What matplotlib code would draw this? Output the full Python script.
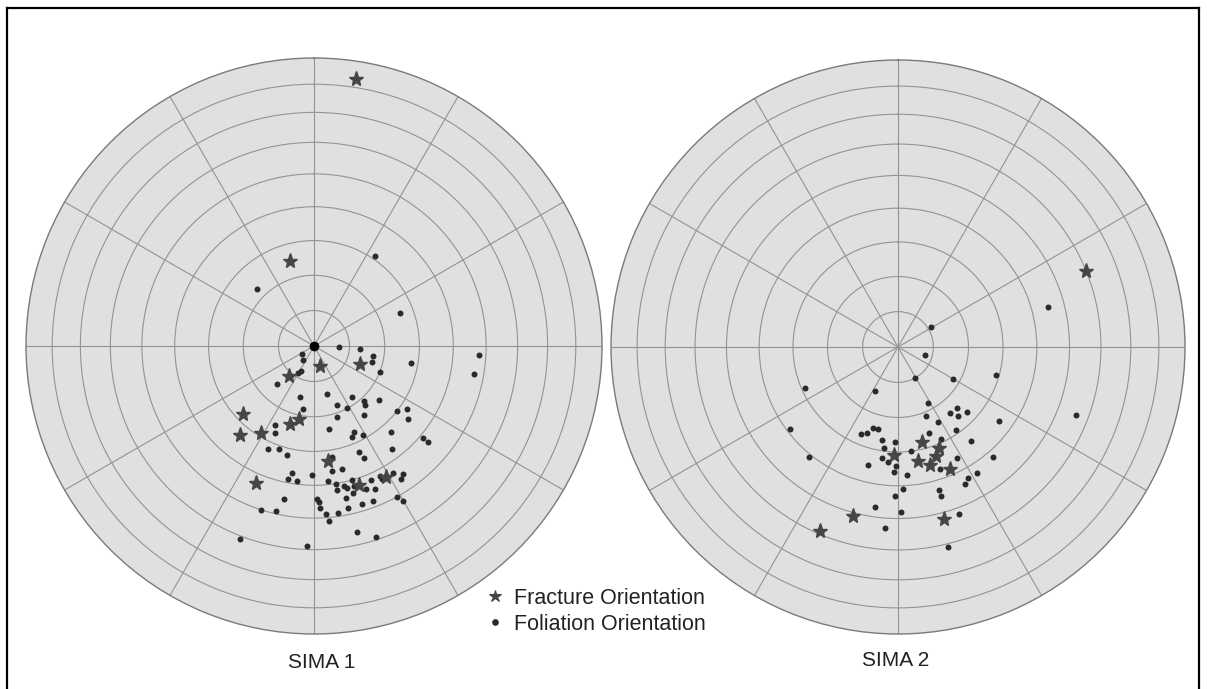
import numpy as np
import matplotlib
matplotlib.use("Agg")
import matplotlib.pyplot as plt
from matplotlib.lines import Line2D

# ---------------- data (azimuth deg clockwise from N, dip deg from centre) ----------------
sima1_fracture_az = [9, 344, 164, 220, 111, 226, 192, 197, 220, 211, 173, 203, 162, 151]
sima1_fracture_dip = [83, 25, 6, 11, 14, 28, 21, 23, 33, 29, 33, 43, 42, 43]

sima1_foliation_az = [34, 315, 69, 93, 100, 100, 93, 94, 100, 105, 112, 236, 220, 211, 207,
                      224, 195, 190, 165, 159, 162, 143, 152, 138, 139, 130, 144, 128, 124, 128,
                      130, 130, 206, 204, 170, 157, 155, 151, 138, 143, 204, 199, 194, 157, 156,
                      171, 172, 167, 181, 190, 191, 187, 191, 198, 193, 201, 182, 167, 162, 179,
                      178, 178, 176, 175, 172, 174, 171, 171, 168, 167, 164, 164, 165, 168, 168,
                      163, 159, 160, 157, 157, 153, 153, 148, 145, 147, 151, 150]
sima1_foliation_dip = [31, 23, 26, 48, 47, 28, 7, 13, 17, 17, 20, 4, 5, 9, 8,
                       15, 15, 18, 14, 18, 21, 18, 20, 21, 22, 24, 24, 30, 32, 34,
                       41, 43, 25, 27, 24, 28, 27, 29, 33, 37, 32, 31, 32, 33, 35,
                       32, 36, 36, 37, 37, 39, 39, 45, 50, 49, 61, 59, 56, 59, 44,
                       45, 47, 49, 51, 49, 39, 40, 42, 41, 42, 40, 42, 44, 45, 48,
                       48, 48, 44, 42, 45, 42, 43, 43, 45, 46, 50, 52]
sima1_vertical_az = [0]
sima1_vertical_dip = [0]

sima2_fracture_az = [68, 166, 182, 170, 161, 158, 165, 157, 195, 203, 165]
sima2_fracture_dip = [60, 28, 31, 33, 33, 31, 35, 38, 51, 59, 52]

sima2_foliation_az = [75, 59, 106, 106, 120, 152, 246, 208, 152, 136, 142, 133, 158, 139, 152,
                      126, 111, 145, 233, 197, 194, 203, 200, 160, 190, 182, 155, 142, 188, 173,
                      219, 188, 185, 181, 194, 152, 139, 161, 182, 176, 148, 154, 152, 178, 164,
                      164, 181, 188, 179, 160, 184, 166]
sima2_foliation_dip = [45, 11, 8, 29, 18, 10, 29, 14, 18, 24, 24, 27, 21, 26, 24,
                       36, 56, 29, 39, 24, 24, 27, 26, 26, 27, 27, 29, 34, 29, 30,
                       41, 32, 33, 34, 35, 36, 42, 37, 36, 37, 43, 44, 43, 41, 43,
                       45, 43, 47, 48, 52, 53, 61]

ring_dips = [10, 20, 30, 40, 50, 60, 70, 80]
spoke_angles = [0, 30, 60, 90, 120, 150, 180, 210, 240, 270, 300, 330]
panel_titles = ["SIMA 1", "SIMA 2"]
legend_labels = ["Fracture Orientation", "Foliation Orientation"]


def equal_area(dip_deg):
    """Lambert equal-area radius (0 at centre, 1 at primitive)."""
    d = np.radians(np.asarray(dip_deg, dtype=float))
    return np.sqrt(2.0) * np.sin(d / 2.0)


plt.rcParams['font.family'] = ['Liberation Sans', 'DejaVu Sans']

W, H = 1207, 689
fig = plt.figure(figsize=(W / 100, H / 100), dpi=100)

FACE = '#e0e0e0'
GRID = '#939393'
DOT = '#2a2a2a'
STAR = '#464646'


def make_net(cx, cy, R):
    ax = fig.add_axes([(cx - R) / W, (H - cy - R) / H, 2 * R / W, 2 * R / H],
                      projection='polar')
    ax.set_theta_zero_location('N')
    ax.set_theta_direction(-1)
    ax.set_facecolor(FACE)
    ax.set_ylim(0, 1)
    ax.set_rticks(equal_area(ring_dips))
    ax.set_thetagrids(spoke_angles)
    ax.set_xticklabels([])
    ax.set_yticklabels([])
    ax.tick_params(length=0, pad=0)
    ax.grid(True, color=GRID, linewidth=0.8)
    ax.spines['polar'].set_color('#7a7a7a')
    ax.spines['polar'].set_linewidth(1.0)
    return ax


ax1 = make_net(314, 346, 288)
ax2 = make_net(898, 347, 287)

star_kw = dict(color=STAR, markersize=11, markeredgewidth=1.0, markeredgecolor=STAR,
               clip_on=False, zorder=4)
dot_kw = dict(color=DOT, markersize=4.3, markeredgewidth=0, clip_on=False, zorder=3)

ax1.plot(np.radians(sima1_foliation_az), equal_area(sima1_foliation_dip), 'o', **dot_kw)
ax1.plot(np.radians(sima1_fracture_az), equal_area(sima1_fracture_dip), '*', **star_kw)
ax1.plot(np.radians(sima1_vertical_az), equal_area(sima1_vertical_dip), 'o',
         color='black', markersize=7, markeredgewidth=0, zorder=5)

ax2.plot(np.radians(sima2_foliation_az), equal_area(sima2_foliation_dip), 'o', **dot_kw)
ax2.plot(np.radians(sima2_fracture_az), equal_area(sima2_fracture_dip), '*', **star_kw)

# titles under each net
fig.text(322 / W, 1 - 662 / H, panel_titles[0], ha='center', va='center',
         fontsize=15, color='#222222')
fig.text(896 / W, 1 - 661 / H, panel_titles[1], ha='center', va='center',
         fontsize=15, color='#222222')

# legend
handles = [Line2D([], [], marker='*', linestyle='none', color=STAR, markersize=9,
                  markeredgewidth=0.8, markeredgecolor=STAR),
           Line2D([], [], marker='o', linestyle='none', color=DOT, markersize=4.8,
                  markeredgewidth=0)]
leg = fig.legend(handles, legend_labels, loc='upper left',
                 bbox_to_anchor=(476 / W, 1 - 577 / H), frameon=False,
                 fontsize=15.5, handlelength=0.8, handletextpad=0.45,
                 labelspacing=0.22, borderpad=0, labelcolor='#222222')

# frame border (left, top, right)
fig.add_artist(Line2D([7 / W, 7 / W], [0, 1 - 8 / H], color='black', linewidth=1.6,
                      transform=fig.transFigure))
fig.add_artist(Line2D([7 / W, 1199 / W], [1 - 8 / H, 1 - 8 / H], color='black',
                      linewidth=1.6, transform=fig.transFigure))
fig.add_artist(Line2D([1199 / W, 1199 / W], [0, 1 - 8 / H], color='black',
                      linewidth=1.6, transform=fig.transFigure))

fig.savefig('out.png', dpi=100, facecolor='white')
